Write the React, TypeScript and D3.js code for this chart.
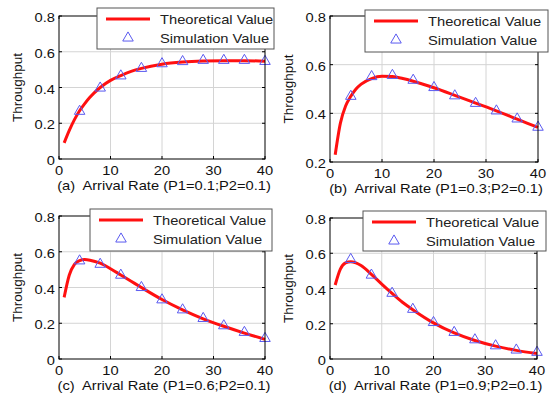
import React from 'react';
import * as d3 from 'd3';

// arrival rates where the theoretical curve is sampled
const theoryX = [1, 2, 3, 4, 5, 6, 8, 10, 12, 14, 16, 20, 24, 28, 32, 36, 40];
// arrival rates of the simulation runs
const simX = [4, 8, 12, 16, 20, 24, 28, 32, 36, 40];

const theoryA = [0.09, 0.16, 0.22, 0.27, 0.31, 0.345, 0.4, 0.44, 0.467, 0.49, 0.507, 0.53, 0.542, 0.548, 0.55, 0.55, 0.547];
const simA = [0.267, 0.397, 0.465, 0.507, 0.533, 0.545, 0.552, 0.552, 0.552, 0.546];

const theoryB = [0.23, 0.36, 0.43, 0.47, 0.5, 0.52, 0.543, 0.552, 0.551, 0.543, 0.532, 0.505, 0.474, 0.442, 0.41, 0.376, 0.342];
const simB = [0.47, 0.551, 0.556, 0.536, 0.506, 0.472, 0.441, 0.41, 0.377, 0.343];

const theoryC = [0.345, 0.47, 0.53, 0.55, 0.556, 0.553, 0.536, 0.505, 0.47, 0.435, 0.4, 0.333, 0.275, 0.225, 0.183, 0.145, 0.11];
const simC = [0.549, 0.53, 0.469, 0.4, 0.331, 0.275, 0.227, 0.186, 0.149, 0.115];

const theoryD = [0.42, 0.51, 0.545, 0.552, 0.545, 0.53, 0.48, 0.425, 0.372, 0.322, 0.28, 0.205, 0.148, 0.105, 0.073, 0.049, 0.031];
const simD = [0.565, 0.476, 0.373, 0.282, 0.207, 0.151, 0.109, 0.075, 0.051, 0.038];

const xTicks = [0, 10, 20, 30, 40];
const yTicksFull = [0, 0.2, 0.4, 0.6, 0.8];
const yTicksB = [0.2, 0.4, 0.6, 0.8];

const captions = [
  '(a)  Arrival Rate (P1=0.1;P2=0.1)',
  '(b)  Arrival Rate (P1=0.3;P2=0.1)',
  '(c)  Arrival Rate (P1=0.6;P2=0.1)',
  '(d)  Arrival Rate (P1=0.9;P2=0.1)',
];
const legendLabels = ['Theoretical Value', 'Simulation Value'];

const FONT = 'Liberation Sans, Arial, sans-serif';
const RED = '#ff1010';
const BLUE = '#5a5af0';
const STRETCH = 1.13; // the source image is a little wider than tall

type Box = { left: number; right: number; top: number; bottom: number };
type Leg = { x: number; y: number; w: number; h: number };

// horizontal text, slightly widened like the source
function T({ x, y, anchor = 'start', size = 13, fill = '#111', children }: {
  x: number; y: number; anchor?: string; size?: number; fill?: string; children: React.ReactNode;
}) {
  return (
    <text transform={`translate(${x},${y}) scale(${STRETCH},1)`} textAnchor={anchor} fontSize={size}
      fontFamily={FONT} fill={fill} style={{ whiteSpace: 'pre' }}>
      {children}
    </text>
  );
}

function Panel({ box, leg, theory, sim, yDomain, yTicks, caption }: {
  box: Box; leg: Leg; theory: number[]; sim: number[]; yDomain: [number, number]; yTicks: number[]; caption: string;
}) {
  const x = d3.scaleLinear().domain([0, 40]).range([box.left, box.right]);
  const y = d3.scaleLinear().domain(yDomain).range([box.bottom, box.top]);
  const line = d3.line<number>()
    .x((_, i) => x(theoryX[i]))
    .y(d => y(d))
    .curve(d3.curveMonotoneX);
  const tri = d3.symbol(d3.symbolTriangle, 48)();
  const cx = (box.left + box.right) / 2;
  const cy = (box.top + box.bottom) / 2;
  return (
    <g>
      {/* grid */}
      {xTicks.slice(1, -1).map(t => (
        <line key={'gx' + t} x1={x(t)} x2={x(t)} y1={box.top} y2={box.bottom} stroke="#d4d4d4" strokeWidth={1} />
      ))}
      {yTicks.slice(1, -1).map(t => (
        <line key={'gy' + t} x1={box.left} x2={box.right} y1={y(t)} y2={y(t)} stroke="#d4d4d4" strokeWidth={1} />
      ))}
      {/* inner ticks */}
      {xTicks.map(t => (
        <g key={'tx' + t}>
          <line x1={x(t)} x2={x(t)} y1={box.bottom} y2={box.bottom - 3} stroke="#000" />
          <line x1={x(t)} x2={x(t)} y1={box.top} y2={box.top + 3} stroke="#000" />
          <T x={x(t)} y={box.bottom + 16} anchor="middle">{t}</T>
        </g>
      ))}
      {yTicks.map(t => (
        <g key={'ty' + t}>
          <line x1={box.left} x2={box.left + 3} y1={y(t)} y2={y(t)} stroke="#000" />
          <line x1={box.right} x2={box.right - 3} y1={y(t)} y2={y(t)} stroke="#000" />
          <T x={box.left - 4} y={y(t) + 6} anchor="end">{t === 0 ? '0' : t.toFixed(1)}</T>
        </g>
      ))}
      {/* curve and markers */}
      <path d={line(theory) || ''} fill="none" stroke={RED} strokeWidth={3} />
      {sim.map((v, i) => (
        <path key={'s' + i} d={tri || ''} transform={`translate(${x(simX[i])},${y(v)})`} fill="none" stroke={BLUE} strokeWidth={1} />
      ))}
      <rect x={box.left} y={box.top} width={box.right - box.left} height={box.bottom - box.top} fill="none" stroke="#000" strokeWidth={1} />
      {/* legend */}
      <rect x={leg.x} y={leg.y} width={leg.w} height={leg.h} fill="#fff" stroke="#555" strokeWidth={1} />
      <line x1={leg.x + 9} x2={leg.x + 53} y1={leg.y + 11} y2={leg.y + 11} stroke={RED} strokeWidth={3} />
      <path d={tri || ''} transform={`translate(${leg.x + 31},${leg.y + 30})`} fill="none" stroke={BLUE} strokeWidth={1} />
      <T x={leg.x + 63} y={leg.y + 16} fill="#222">{legendLabels[0]}</T>
      <T x={leg.x + 63} y={leg.y + 35} fill="#222">{legendLabels[1]}</T>
      {/* labels */}
      <T x={cx + 2} y={box.bottom + 31} anchor="middle">{caption}</T>
      <text transform={`translate(${box.left - 37},${cy}) rotate(-90)`} textAnchor="middle" fontSize={13.5} fontFamily={FONT} fill="#111">Throughput</text>
    </g>
  );
}

export default function App() {
  return (
    <svg width={550} height={396} style={{ position: 'absolute', left: 0, top: 0, background: '#fff' }}>
      <Panel box={{ left: 59, right: 265, top: 16, bottom: 159 }} leg={{ x: 97, y: 8, w: 177, h: 41 }}
        theory={theoryA} sim={simA} yDomain={[0, 0.8]} yTicks={yTicksFull} caption={captions[0]} />
      <Panel box={{ left: 330, right: 538, top: 16, bottom: 162 }} leg={{ x: 365, y: 10, w: 183, h: 42 }}
        theory={theoryB} sim={simB} yDomain={[0.2, 0.8]} yTicks={yTicksB} caption={captions[1]} />
      <Panel box={{ left: 59, right: 265, top: 216, bottom: 359 }} leg={{ x: 90, y: 209, w: 182, h: 42 }}
        theory={theoryC} sim={simC} yDomain={[0, 0.8]} yTicks={yTicksFull} caption={captions[2]} />
      <Panel box={{ left: 330, right: 537, top: 218, bottom: 359 }} leg={{ x: 363, y: 211, w: 183, h: 40 }}
        theory={theoryD} sim={simD} yDomain={[0, 0.8]} yTicks={yTicksFull} caption={captions[3]} />
    </svg>
  );
}
